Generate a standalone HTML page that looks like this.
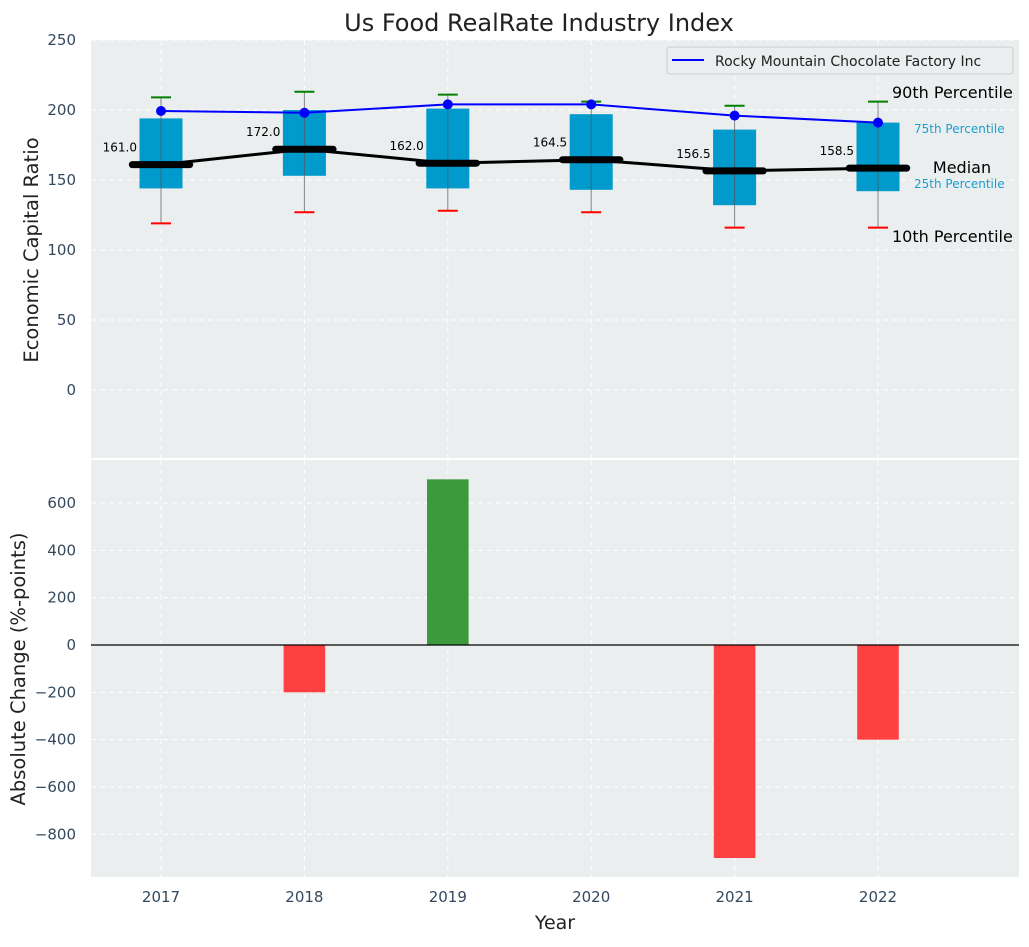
<!DOCTYPE html>
<html><head><meta charset="utf-8"><style>
body{margin:0;background:#fff;font-family:"Liberation Sans","DejaVu Sans",sans-serif}
svg text{font-family:"DejaVu Sans","Liberation Sans",sans-serif}
</style></head><body>
<svg id="c" width="1029" height="942" xmlns="http://www.w3.org/2000/svg"></svg>
<script>
const years=[2017,2018,2019,2020,2021,2022];
const p90=[209,213,211,206,203,206];
const p75=[194,200,201,197,186,191];
const median=[161.0,172.0,162.0,164.5,156.5,158.5];
const p25=[144,153,144,143,132,142];
const p10=[119,127,128,127,116,116];
const company=[199.3,198,204,204,196,191];
const changes=[0,-200,700,0,-900,-400];
const topTicks=[0,50,100,150,200,250];
const botTicks=[-800,-600,-400,-200,0,200,400,600];

const NS="http://www.w3.org/2000/svg";
const svg=document.getElementById('c');
function el(t,a,p){const e=document.createElementNS(NS,t);for(const k in a)e.setAttribute(k,a[k]);(p||svg).appendChild(e);return e;}
const L=91,R=1019;
const U=143.4;
const xs=i=>161+i*U;
const xw=w=>w*U;
const T0=40,T1=458,B0=460,B1=877;
const yT=v=>390-(v)*1.4;
const yB=v=>645-v*(142/600);

let g=el('rect',{x:L,y:T0,width:R-L,height:T1-T0,fill:'#eaeeef'});

g=el('rect',{x:L,y:B0,width:R-L,height:B1-B0,fill:'#eaeeef'});


topTicks.forEach(v=>{const y=yT(v);
 let l=el('line',{x1:L,x2:R,y1:y,y2:y,stroke:'#fff','stroke-dasharray':'5,4','stroke-width':1});
 
 let t=el('text',{x:76,y:y+5,'text-anchor':'end','font-size':15,fill:'#34495e'});t.textContent=v;
 });
botTicks.forEach(v=>{const y=yB(v);
 let l=el('line',{x1:L,x2:R,y1:y,y2:y,stroke:'#fff','stroke-dasharray':'5,4','stroke-width':1});
 
 let t=el('text',{x:76,y:y+5,'text-anchor':'end','font-size':15,fill:'#34495e'});t.textContent=(v<0?'\u2212'+(-v):v);
 });
years.forEach((yr,i)=>{const x=xs(i);
 [[T0,T1],[B0,B1]].forEach(r=>{let l=el('line',{x1:x,x2:x,y1:r[0],y2:r[1],stroke:'#fff','stroke-dasharray':'5,4'});
 });
 let t=el('text',{x:x,y:902,'text-anchor':'middle','font-size':15,fill:'#34495e'});t.textContent=yr;
 });

years.forEach((yr,i)=>{const x=xs(i);
 let b=el('rect',{x:x-xw(0.15),y:yT(p75[i]),width:xw(0.3),height:yT(p25[i])-yT(p75[i]),fill:'#009acd'});
 
 let w=el('line',{x1:x,x2:x,y1:yT(p90[i]),y2:yT(p10[i]),stroke:'#555','stroke-width':1,opacity:0.7});
 
 let c1=el('line',{x1:x-10,x2:x+10,y1:yT(p90[i]),y2:yT(p90[i]),stroke:'green','stroke-width':2});
 
 let c2=el('line',{x1:x-10,x2:x+10,y1:yT(p10[i]),y2:yT(p10[i]),stroke:'red','stroke-width':2});
 
});
let mp=el('polyline',{points:median.map((v,i)=>xs(i)+','+yT(v)).join(' '),fill:'none',stroke:'#000','stroke-width':3});

median.forEach((v,i)=>{const x=xs(i);
 let m=el('line',{x1:x-xw(0.2),x2:x+xw(0.2),y1:yT(v),y2:yT(v),stroke:'#000','stroke-width':7,'stroke-linecap':'round'});
 
 let t=el('text',{x:x-24,y:yT(v)-13,'text-anchor':'end','font-size':12,fill:'#000'});t.textContent=v.toFixed(1);
 });
let cp=el('polyline',{points:company.map((v,i)=>xs(i)+','+yT(v)).join(' '),fill:'none',stroke:'#0000ff','stroke-width':2});

company.forEach((v,i)=>{let d=el('circle',{cx:xs(i),cy:yT(v),r:5,fill:'#0000ff'});
 });

const lab=[["90th Percentile",892,98,16,'#000','start'],["75th Percentile",914,133,12,'#1a9fcf','start'],["Median",962,173,16,'#000','middle'],["25th Percentile",914,188,12,'#1a9fcf','start'],["10th Percentile",892,242,16,'#000','start']];
lab.forEach(a=>{let t=el('text',{x:a[1],y:a[2],'font-size':a[3],fill:a[4],'text-anchor':a[5]});t.textContent=a[0];
 });

let lg=el('g',{});
el('rect',{x:667,y:47,width:346,height:27,rx:3,fill:'#eaeeef',stroke:'#ccc'},lg);
el('line',{x1:672,x2:704,y1:60,y2:60,stroke:'#0000ff','stroke-width':2},lg);
let lt=el('text',{x:715,y:66,'font-size':14,fill:'#222'},lg);lt.textContent='Rocky Mountain Chocolate Factory Inc';

changes.forEach((v,i)=>{if(v===0)return;const y0=yB(0),y1=yB(v);
 let b=el('rect',{x:xs(i)-xw(0.145),y:Math.min(y0,y1),width:xw(0.29),height:Math.abs(y1-y0),fill:v>0?'#3c9a3c':'#ff4040'});
 });
let z=el('line',{x1:L,x2:R,y1:yB(0),y2:yB(0),stroke:'#000','stroke-width':1.2});


let t=el('text',{x:539,y:31,'text-anchor':'middle','font-size':24,fill:'#222'});t.textContent='Us Food RealRate Industry Index';

t=el('text',{x:555,y:929,'text-anchor':'middle','font-size':19,fill:'#222'});t.textContent='Year';

t=el('text',{x:38,y:250,'text-anchor':'middle','font-size':19.5,fill:'#222',transform:'rotate(-90 38 250)'});t.textContent='Economic Capital Ratio';

t=el('text',{x:25,y:669,'text-anchor':'middle','font-size':19.5,fill:'#222',transform:'rotate(-90 25 669)'});t.textContent='Absolute Change (%-points)';

</script>
</body></html>
